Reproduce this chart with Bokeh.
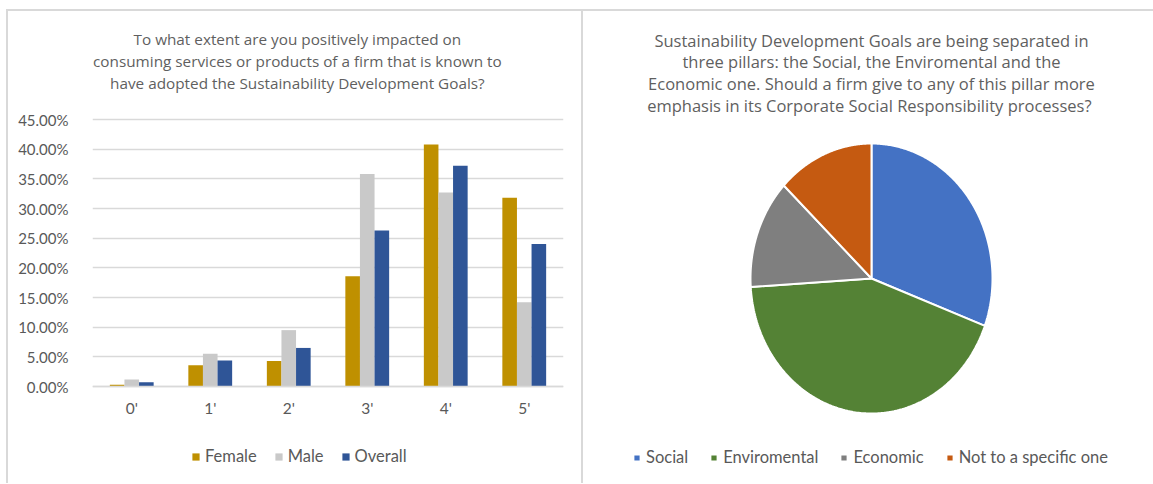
import numpy as np
from bokeh.plotting import figure
from bokeh.models import (ColumnDataSource, FactorRange, Range1d, NumeralTickFormatter,
                          FixedTicker, Legend, LegendItem)
from bokeh.core.properties import value
from bokeh.transform import dodge
from bokeh.layouts import row
from bokeh.embed import file_html
from bokeh.resources import INLINE

# ---------------- data ----------------
categories = ["0'", "1'", "2'", "3'", "4'", "5'"]
female = [0.003, 0.036, 0.043, 0.186, 0.408, 0.318]
male = [0.012, 0.055, 0.095, 0.358, 0.327, 0.142]
overall = [0.007, 0.044, 0.065, 0.263, 0.372, 0.240]
series_names = ["Female", "Male", "Overall"]
series_colors = ["#BF9000", "#C9C9C9", "#2F5597"]
y_ticks = [0.0, 0.05, 0.10, 0.15, 0.20, 0.25, 0.30, 0.35, 0.40, 0.45]

bar_title = ["To what extent are you positively impacted on",
             "consuming services or products of a firm that is known to",
             "have adopted the Sustainability Development Goals?"]

pie_labels = ["Social", "Enviromental", "Economic", "Not to a specific one"]
pie_values = [30.7, 43.3, 13.1, 12.9]
pie_colors = ["#4472C4", "#548235", "#7F7F7F", "#C55A11"]

pie_title = ["Sustainability Development Goals are being separated in",
             "three pillars: the Social, the Enviromental and the",
             "Economic one. Should a firm give to any of this pillar more",
             "emphasis in its Corporate Social Responsibility  processes?"]

TEXT = "#595959"
TITLE_COLOR = "#5F5F5F"
GRID = "#D9D9D9"
TICK_FONT = "Lato"
TITLE_FONT = "Open Sans"
BORDER = "2px solid #D9D9D9"

# layout constants (pixels)
CANVAS_H = 472
BAR_LEFT, BAR_RIGHT = 84, 20          # plot-area margins of the bar chart
Y0_PX, Y45_PX = 375, 108              # 0 % and 45 % lines, from the canvas top
PIE_CX, PIE_CY, PIE_RX, PIE_RY = 288, 267, 121, 135


def style_legend(lg, spacing, gsize, fsize):
    lg.orientation = "horizontal"
    lg.padding = 0
    lg.margin = 0
    lg.spacing = spacing
    lg.border_line_color = None
    lg.background_fill_alpha = 0
    lg.glyph_width = gsize
    lg.glyph_height = gsize
    lg.label_standoff = 5
    lg.label_text_font = TICK_FONT
    lg.label_text_font_size = fsize
    lg.label_text_color = TEXT


# ---------------- bar chart ----------------
src = ColumnDataSource(dict(cat=categories, Female=female, Male=male, Overall=overall))

k = 0.45 / (Y0_PX - Y45_PX)                   # data units per pixel
y_start = -(CANVAS_H - Y0_PX) * k
y_end = 0.45 + Y45_PX * k

p1 = figure(x_range=FactorRange(factors=categories), y_range=Range1d(y_start, y_end),
            width=575, height=CANVAS_H, output_backend="svg", toolbar_location=None, title=None,
            min_border_left=BAR_LEFT, min_border_right=BAR_RIGHT, min_border_top=0,
            min_border_bottom=0)
p1.outline_line_color = None
p1.styles = {"border-right": BORDER}

bw = 0.186
offsets = [-bw, 0.0, bw]
items = []
for name, col, off in zip(series_names, series_colors, offsets):
    r = p1.vbar(x=dodge("cat", off, range=p1.x_range), top=name, width=bw, source=src,
                fill_color=col, line_color=None)
    items.append(LegendItem(label=name, renderers=[r]))

p1.yaxis.ticker = FixedTicker(ticks=y_ticks)
p1.yaxis.formatter = NumeralTickFormatter(format="0.00%")
p1.yaxis.axis_line_color = None
p1.yaxis.major_label_standoff = 24
p1.xaxis.fixed_location = 0
p1.xaxis.axis_line_color = GRID
p1.xaxis.axis_line_width = 1.3
p1.xaxis.major_label_standoff = 12
for ax in (p1.xaxis, p1.yaxis):
    ax.major_tick_line_color = None
    ax.minor_tick_line_color = None
    ax.major_tick_out = 0
    ax.major_tick_in = 0
    ax.major_label_text_font = TICK_FONT
    ax.major_label_text_font_size = "15px"
    ax.major_label_text_color = TEXT
p1.xaxis.major_label_text_font_size = "15.5px"
p1.xgrid.grid_line_color = None
p1.ygrid.grid_line_color = GRID
p1.ygrid.grid_line_width = 1.3
p1.ygrid.ticker = FixedTicker(ticks=y_ticks)

lg1 = Legend(items=items, location=(99, 17))
style_legend(lg1, 17, 9, "16.5px")
p1.add_layout(lg1)

# title lines, centred above the chart
frame_w = 575 - 2 - BAR_LEFT - BAR_RIGHT
t_cx = (296 - 8 - BAR_LEFT) / frame_w * len(categories)
t_rows = [27, 49, 71]
p1.text(x=[t_cx] * 3, y=[0.45 + (Y45_PX - r_) * k for r_ in t_rows], text=bar_title,
        text_align="center", text_baseline="middle", text_font=value(TITLE_FONT),
        text_font_size="15.3px", text_color=TITLE_COLOR)

# ---------------- pie chart ----------------
fr = np.array(pie_values, dtype=float) / float(np.sum(pie_values))
cum = np.concatenate([[0.0], np.cumsum(fr)])
xs, ys = [], []
for i in range(len(pie_values)):
    a = np.linspace(cum[i], cum[i + 1], 200) * 2 * np.pi
    th = np.pi / 2 - a
    xs.append([0.0] + list(np.cos(th)))
    ys.append([0.0] + list(np.sin(th)))
psrc = ColumnDataSource(dict(xs=xs, ys=ys, color=pie_colors, label=pie_labels))

P2_W = 570
p2 = figure(x_range=Range1d(-PIE_CX / PIE_RX, (P2_W - PIE_CX) / PIE_RX),
            y_range=Range1d(-(CANVAS_H - PIE_CY) / PIE_RY, PIE_CY / PIE_RY),
            width=P2_W, height=CANVAS_H, output_backend="svg", toolbar_location=None, title=None,
            x_axis_type=None, y_axis_type=None, min_border=0)
p2.outline_line_color = None
p2.grid.visible = False
pr = p2.patches("xs", "ys", source=psrc, fill_color="color", line_color="white", line_width=2)

lg2 = Legend(items=[LegendItem(label=lab, renderers=[pr], index=i) for i, lab in enumerate(pie_labels)],
             location=(49, 16))
style_legend(lg2, 21, 9, "16.5px")
p2.add_layout(lg2)

p_rows = [29, 50, 72, 94]
p2.text(x=[0.0] * 4, y=[(PIE_CY - r_) / PIE_RY for r_ in p_rows], text=pie_title,
        text_align="center", text_baseline="middle", text_font=value(TITLE_FONT),
        text_font_size="16.5px", text_color=TITLE_COLOR)

layout = row([p1, p2], styles={"border-top": BORDER, "border-left": BORDER,
                                "margin-left": "6px", "margin-top": "9px"})

open("out.html", "w").write(file_html(layout, INLINE))
